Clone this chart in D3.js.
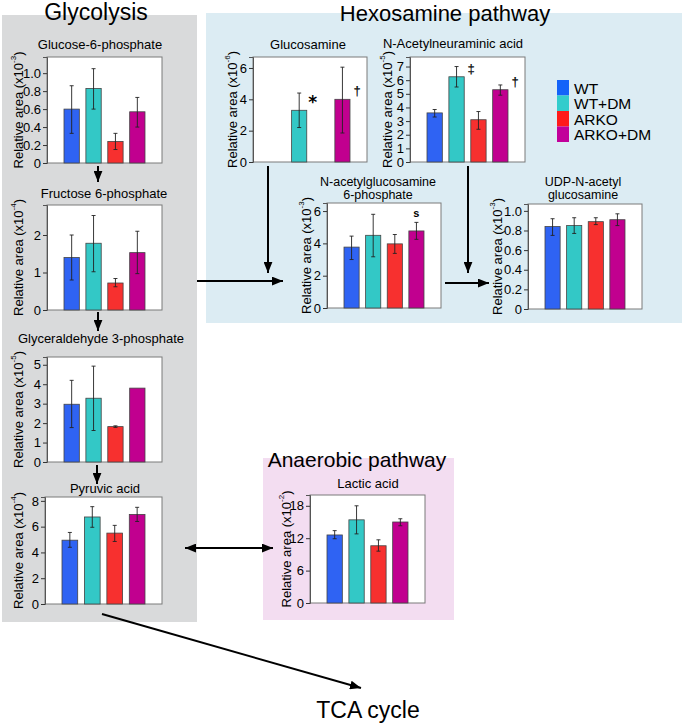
<!DOCTYPE html>
<html><head><meta charset="utf-8">
<script src="https://cdn.jsdelivr.net/npm/d3@7"></script>
<style>
html,body{margin:0;padding:0;background:#fff;}
svg{display:block;font-family:"Liberation Sans",Arial,sans-serif;}
</style></head>
<body>
<svg id="chart" width="684" height="726"></svg>
<script>
// ---------- data ----------
const groups = ["WT", "WT+DM", "ARKO", "ARKO+DM"];

const g6pMean = [0.60, 0.83, 0.24, 0.57];
const g6pLow  = [0.33, 0.60, 0.15, 0.40];
const g6pHigh = [0.86, 1.05, 0.33, 0.73];
const g6pTicks = [0, 0.2, 0.4, 0.6, 0.8, 1.0];

const f6pMean = [1.40, 1.78, 0.72, 1.53];
const f6pLow  = [0.80, 1.02, 0.62, 0.97];
const f6pHigh = [2.00, 2.52, 0.84, 2.10];
const f6pTicks = [0, 1, 2];

const gapMean = [2.97, 3.28, 1.82, 3.80];
const gapLow  = [1.77, 1.62, 1.78, null];
const gapHigh = [4.20, 4.93, 1.86, null];
const gapTicks = [0, 1, 2, 3, 4, 5];

const pyrMean = [4.95, 6.75, 5.50, 6.95];
const pyrLow  = [4.40, 5.95, 4.85, 6.40];
const pyrHigh = [5.55, 7.55, 6.10, 7.50];
const pyrTicks = [0, 2, 4, 6, 8];

const glcnMean = [null, 3.30, null, 4.00];
const glcnLow  = [null, 2.20, null, 1.85];
const glcnHigh = [null, 4.40, null, 6.05];
const glcnTicks = [0, 2, 4, 6];
const glcnMarks = ["", "*", "", "\u2020"];

const nanaMean = [3.60, 6.25, 3.10, 5.30];
const nanaLow  = [3.30, 5.50, 2.40, 4.90];
const nanaHigh = [3.85, 7.00, 3.70, 5.65];
const nanaTicks = [0, 1, 2, 3, 4, 5, 6, 7];
const nanaMarks = ["", "\u2021", "", "\u2020"];

const gn6pMean = [3.77, 4.50, 3.97, 4.77];
const gn6pLow  = [3.00, 3.17, 3.38, 4.25];
const gn6pHigh = [4.45, 5.80, 4.55, 5.30];
const gn6pTicks = [0, 2, 4, 6];
const gn6pMarks = ["", "", "", "s"];

const udpMean = [0.84, 0.85, 0.89, 0.91];
const udpLow  = [0.75, 0.77, 0.86, 0.85];
const udpHigh = [0.92, 0.93, 0.93, 0.97];
const udpTicks = [0, 0.2, 0.4, 0.6, 0.8, 1.0];

const lacMean = [12.6, 15.4, 10.6, 15.0];
const lacLow  = [11.9, 12.8, 9.6, 14.3];
const lacHigh = [13.4, 18.0, 11.7, 15.6];
const lacTicks = [0, 6, 12, 18];

const pathwayTitles = ["Glycolysis", "Hexosamine pathway", "Anaerobic pathway", "TCA cycle"];

// ---------- styles ----------
const groupColors = ["#2f63f3", "#33c8c6", "#f7302f", "#c1008f"];
const legendColors = ["#1463f9", "#33cccc", "#ff1a1a", "#c2009a"];

const svg = d3.select("#chart");
const defs = svg.append("defs");
defs.append("marker").attr("id", "ah").attr("viewBox", "0 0 10 8")
  .attr("refX", 10).attr("refY", 4).attr("markerWidth", 11).attr("markerHeight", 9)
  .attr("markerUnits", "userSpaceOnUse").attr("orient", "auto-start-reverse")
  .append("path").attr("d", "M0,0 L10,4 L0,8 Z").attr("fill", "#000");

// background boxes
svg.append("rect").attr("x", 2).attr("y", 15).attr("width", 195).attr("height", 607).attr("fill", "#d9dadb");
svg.append("rect").attr("x", 206).attr("y", 13).attr("width", 476).attr("height", 310).attr("fill", "#dcecf3");
svg.append("rect").attr("x", 263).attr("y", 458).attr("width", 191).attr("height", 162).attr("fill", "#f3ddf1");

// pathway titles
const ptPos = [[96, 20, 23], [445, 21, 22], [357, 467, 21], [368, 718, 23]];
pathwayTitles.forEach((t, i) => {
  svg.append("text").attr("x", ptPos[i][0]).attr("y", ptPos[i][1])
    .attr("text-anchor", "middle").attr("font-size", ptPos[i][2]).attr("fill", "#000").text(t);
});

// panels
const fmtDec = d => d === 0 ? "0" : d3.format(".1f")(d);
const fmtInt = d => d3.format("d")(d);

const panels = [
  {title: ["Glucose-6-phosphate"], mean: g6pMean, low: g6pLow, high: g6pHigh, ticks: g6pTicks, max: 1.18, exp: "-3", fmt: fmtDec,
   x: 47, y: 57, w: 115, h: 106, labelX: 18, tx: 100, ty: 49},
  {title: ["Fructose 6-phosphate"], mean: f6pMean, low: f6pLow, high: f6pHigh, ticks: f6pTicks, max: 2.8, exp: "-4", fmt: fmtInt,
   x: 47, y: 205, w: 115, h: 105, labelX: 18, tx: 104, ty: 198},
  {title: ["Glyceraldehyde 3-phosphate"], mean: gapMean, low: gapLow, high: gapHigh, ticks: gapTicks, max: 5.4, exp: "-5", fmt: fmtInt,
   x: 47, y: 357, w: 115, h: 105, labelX: 18, tx: 101, ty: 343},
  {title: ["Pyruvic acid"], mean: pyrMean, low: pyrLow, high: pyrHigh, ticks: pyrTicks, max: 8.3, exp: "-4", fmt: fmtInt,
   x: 45, y: 497, w: 117, h: 107, labelX: 18, tx: 105, ty: 493},
  {title: ["Glucosamine"], mean: glcnMean, low: glcnLow, high: glcnHigh, ticks: glcnTicks, max: 6.7, exp: "-6", fmt: fmtInt, marks: glcnMarks,
   x: 253, y: 57, w: 114, h: 105, labelX: 232, tx: 308, ty: 49},
  {title: ["N-Acetylneuraminic acid"], mean: nanaMean, low: nanaLow, high: nanaHigh, ticks: nanaTicks, max: 7.7, exp: "-5", fmt: fmtInt, marks: nanaMarks,
   x: 410, y: 57, w: 115, h: 105, labelX: 387, tx: 453, ty: 48},
  {title: ["N-acetylglucosamine", "6-phosphate"], mean: gn6pMean, low: gn6pLow, high: gn6pHigh, ticks: gn6pTicks, max: 6.5, exp: "-3", fmt: fmtInt, marks: gn6pMarks,
   x: 327, y: 203, w: 114, h: 105, labelX: 306, tx: 378, ty: 186},
  {title: ["UDP-N-acetyl", "glucosamine"], mean: udpMean, low: udpLow, high: udpHigh, ticks: udpTicks, max: 1.07, exp: "-3", fmt: fmtDec,
   x: 528, y: 204, w: 114, h: 105, labelX: 497, tx: 583, ty: 186},
  {title: ["Lactic acid"], mean: lacMean, low: lacLow, high: lacHigh, ticks: lacTicks, max: 20, exp: "-2", fmt: fmtInt,
   x: 310, y: 495, w: 115, h: 108, labelX: 286, tx: 368, ty: 488}
];

panels.forEach(p => {
  const g = svg.append("g");
  const xs = d3.scaleBand().domain(groups).range([p.x + 17, p.x + p.w - 17]).paddingInner(0.3).paddingOuter(0);
  const ys = d3.scaleLinear().domain([0, p.max]).range([p.y + p.h, p.y]);

  g.append("rect").attr("x", p.x).attr("y", p.y).attr("width", p.w).attr("height", p.h)
    .attr("fill", "#fff").attr("stroke", "#7a7a7a").attr("stroke-width", 1);

  const ax = g.append("g").attr("transform", `translate(${p.x},0)`)
    .call(d3.axisLeft(ys).tickValues(p.ticks).tickFormat(p.fmt).tickSize(4).tickPadding(2));
  ax.select(".domain").attr("stroke", "#555");
  ax.selectAll(".tick line").attr("stroke", "#333");
  ax.selectAll(".tick text").attr("font-size", 13).attr("fill", "#000")
    .attr("font-family", "'Liberation Sans',Arial,sans-serif");

  const data = groups.map((k, i) => ({k, i, m: p.mean[i], lo: p.low[i], hi: p.high[i], mk: p.marks ? p.marks[i] : ""}));

  g.selectAll(".bar").data(data.filter(d => d.m != null)).enter().append("rect")
    .attr("x", d => xs(d.k)).attr("y", d => ys(d.m))
    .attr("width", xs.bandwidth()).attr("height", d => ys(0) - ys(d.m))
    .attr("fill", d => groupColors[d.i]).attr("stroke", "#444").attr("stroke-width", 0.8);

  const eb = data.filter(d => d.m != null && d.lo != null);
  const cx = d => xs(d.k) + xs.bandwidth() / 2;
  g.selectAll(".eb").data(eb).enter().append("line")
    .attr("x1", cx).attr("x2", cx).attr("y1", d => ys(d.lo)).attr("y2", d => ys(d.hi))
    .attr("stroke", "#222").attr("stroke-width", 0.9);
  ["lo", "hi"].forEach(key => {
    g.selectAll(".cap" + key).data(eb).enter().append("line")
      .attr("x1", d => cx(d) - 2).attr("x2", d => cx(d) + 2)
      .attr("y1", d => ys(d[key])).attr("y2", d => ys(d[key]))
      .attr("stroke", "#222").attr("stroke-width", 0.9);
  });

  data.filter(d => d.mk).forEach(d => {
    if (d.mk === "s") {
      g.append("text").attr("x", cx(d)).attr("y", ys(d.hi) - 5).attr("text-anchor", "middle")
        .attr("font-size", 11).attr("font-weight", "bold").attr("fill", "#000").text(d.mk);
    } else if (d.mk === "*") {
      g.append("text").attr("x", xs(d.k) + xs.bandwidth() + 6).attr("y", ys(d.m) - 2)
        .attr("text-anchor", "middle").attr("font-size", 17).attr("font-weight", "bold")
        .attr("font-family", "'DejaVu Sans',sans-serif").attr("fill", "#000").text(d.mk);
    } else {
      g.append("text").attr("x", xs(d.k) + xs.bandwidth() + 7).attr("y", ys(d.m) - 4)
        .attr("text-anchor", "middle").attr("font-size", 13)
        .attr("font-family", "'Liberation Sans',Arial,sans-serif").attr("fill", "#000")
        .attr("stroke", "#000").attr("stroke-width", 0.15)
        .text(d.mk);
    }
  });

  // title
  const fs = p.title.length > 1 ? 12.5 : 13;
  p.title.forEach((t, j) => {
    g.append("text").attr("x", p.tx).attr("y", p.ty + j * 12.5).attr("text-anchor", "middle")
      .attr("font-size", fs).attr("fill", "#000").text(t);
  });

  // y label
  const cy = p.y + p.h / 2;
  const lab = g.append("text").attr("transform", `translate(${p.labelX},${cy}) rotate(-90)`)
    .attr("text-anchor", "middle").attr("dominant-baseline", "central").attr("font-size", 13).attr("fill", "#000");
  lab.append("tspan").text("Relative area (x10");
  lab.append("tspan").attr("font-size", 8).attr("dy", -5).text(p.exp);
  lab.append("tspan").attr("dy", 5).text(")");
});

// legend
groups.forEach((gname, i) => {
  svg.append("rect").attr("x", 557).attr("y", 80 + i * 15.5).attr("width", 12).attr("height", 15.5).attr("fill", legendColors[i]);
  svg.append("text").attr("x", 574).attr("y", 88 + i * 15.5).attr("dominant-baseline", "central")
    .attr("font-size", 15.5).attr("fill", "#000").text(gname);
});

// arrows
const arrows = [
  [[98, 166], [98, 182], false],
  [[98, 312], [98, 331], false],
  [[97, 465], [97, 484], false],
  [[197, 281], [283, 281], false],
  [[268, 166], [268, 273], false],
  [[468, 166], [468, 273], false],
  [[445, 283], [489, 283], false],
  [[185, 548], [273, 548], true],
  [[102, 614], [361, 688], false]
];
arrows.forEach(a => {
  const l = svg.append("line").attr("x1", a[0][0]).attr("y1", a[0][1]).attr("x2", a[1][0]).attr("y2", a[1][1])
    .attr("stroke", "#000").attr("stroke-width", 2).attr("marker-end", "url(#ah)");
  if (a[2]) l.attr("marker-start", "url(#ah)");
});
</script>
</body></html>
